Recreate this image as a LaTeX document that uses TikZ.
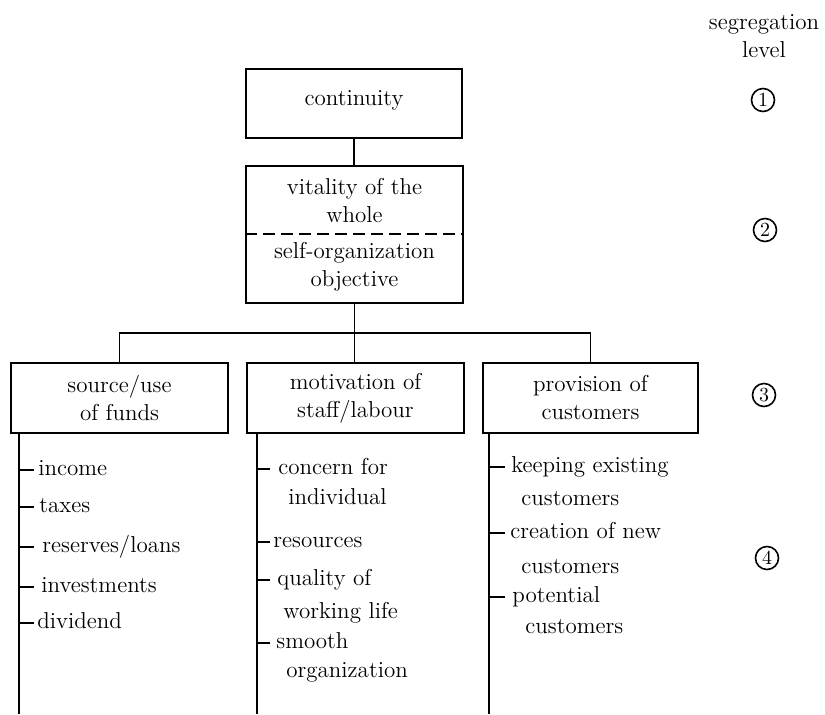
\documentclass[tikz,border=0pt]{standalone}
\usepackage{fontspec}
\begin{document}
\begin{tikzpicture}[x=0.5pt,y=-0.5pt,
  every node/.style={font=\fontsize{11.5}{14}\selectfont},
  box/.style={draw, line width=0.9pt, inner sep=0pt, align=center},
  lbl/.style={inner sep=0pt, align=center},
  item/.style={inner sep=0pt, anchor=west, text height=8pt, text depth=2.5pt},
  lvl/.style={draw, circle, line width=0.8pt, inner sep=0pt, minimum size=11.5pt, font=\fontsize{10}{11}\selectfont},
  conn/.style={line width=0.9pt},
  spine/.style={line width=1.2pt}]
\useasboundingbox (0,0) rectangle (825,714);

% level 1
\node[box, minimum width=108pt, minimum height=34.5pt, text height=8pt, text depth=6.5pt] (cont) at (354,103.5) {continuity};
% level 2
\node[box, minimum width=108.5pt, minimum height=68.5pt] (vit) at (354.5,234.5) {};
\node[lbl] (vtop) at (354.5,200.5) {vitality of the\\whole};
\node[lbl] (vbot) at (354.5,266.5) {self-organization\\objective};
\draw[conn, dashed, dash pattern=on 6pt off 3pt] (vit.west |- 0,234) -- (vit.east |- 0,234);
\draw[conn] (cont.south) -- (cont.south |- vit.north);

% level 3
\node[box, minimum width=108.5pt, minimum height=35pt] (b1) at (119.5,398) {source/use\\of funds};
\node[box, minimum width=108.5pt, minimum height=35pt] (b2) at (355.5,398) {motivation of\\staff/labour};
\node[box, minimum width=107.5pt, minimum height=35pt] (b3) at (590.5,398) {provision of\\customers};

\coordinate (bus) at (354,333);
\draw[conn] (vit.south) -- (vit.south |- b2.north);
\draw[conn] (b1.north) -- (b1.north |- bus) -- (b3.north |- bus) -- (b3.north);

% spines
\coordinate (s1) at (19,714);
\coordinate (s2) at (257,714);
\coordinate (s3) at (489,714);
\coordinate (t1) at (34,0);
\coordinate (t2) at (270,0);
\coordinate (t3) at (505,0);
\draw[spine] (b1.south -| s1) -- (s1);
\draw[spine] (b2.south -| s2) -- (s2);
\draw[spine] (b3.south -| s3) -- (s3);

% level 4 items: funds
\node[item] (f1) at (38,470) {income};
\node[item] (f2) at (39,507) {taxes};
\node[item] (f3) at (42,547) {reserves/loans};
\node[item] (f4) at (41,587) {investments};
\node[item] (f5) at (37,623) {dividend};
\foreach \n in {f1,f2,f3,f4,f5} \draw[conn] (\n.west -| s1) -- (\n.west -| t1);

% staff
\node[item] (m1) at (278,469) {concern for};
\node[item] (m1b) at (288,499) {individual};
\node[item] (m2) at (273,542) {resources};
\node[item] (m3) at (277,580) {quality of};
\node[item] (m3b) at (283,613) {working life};
\node[item] (m4) at (276,643) {smooth};
\node[item] (m4b) at (286,672) {organization};
\foreach \n in {m1,m2,m3,m4} \draw[conn] (\n.west -| s2) -- (\n.west -| t2);

% customers
\node[item] (c1) at (511,467) {keeping existing};
\node[item] (c1b) at (521,499.5) {customers};
\node[item] (c2) at (510,533) {creation of new};
\node[item] (c2b) at (521,568) {customers};
\node[item] (c3) at (512,597) {potential};
\node[item] (c3b) at (525,627.5) {customers};
\foreach \n in {c1,c2,c3} \draw[conn] (\n.west -| s3) -- (\n.west -| t3);

% segregation levels
\node[lbl] (seg) at (764,36) {segregation\\level};
\node[lvl] (l1) at (763,100) {1};
\node[lvl] (l2) at (765,230) {2};
\node[lvl] (l3) at (764,395) {3};
\node[lvl] (l4) at (767,558) {4};
\end{tikzpicture}
\end{document}
